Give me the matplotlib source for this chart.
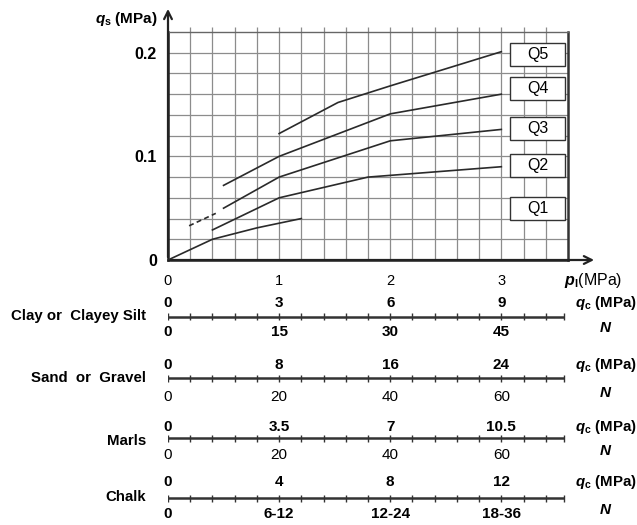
import numpy as np
import matplotlib
matplotlib.use('Agg')
import matplotlib.pyplot as plt
from matplotlib.patches import Rectangle

plt.rcParams['font.family'] = ['Liberation Sans', 'DejaVu Sans']
plt.rcParams['mathtext.fontset'] = 'custom'
plt.rcParams['mathtext.it'] = 'Liberation Sans:italic:bold'
plt.rcParams['mathtext.rm'] = 'Liberation Sans:bold'
plt.rcParams['mathtext.bf'] = 'Liberation Sans:bold'

# curves: p_l (MPa) vs q_s (MPa)
q1_pl = [0, 0.4, 0.8, 1.2]
q1_qs = [0, 0.020, 0.031, 0.040]
q2_pl = [0.4, 1.0, 1.8, 3.0]
q2_qs = [0.029, 0.060, 0.080, 0.090]
q3_pl = [0.5, 1.0, 2.0, 3.0]
q3_qs = [0.050, 0.080, 0.115, 0.126]
q3_dash_pl = [0.19, 0.43]
q3_dash_qs = [0.033, 0.045]
q4_pl = [0.5, 1.0, 2.0, 3.0]
q4_qs = [0.072, 0.100, 0.141, 0.160]
q5_pl = [1.0, 1.53, 2.0, 3.0]
q5_qs = [0.122, 0.152, 0.168, 0.201]

curve_names = ['Q1', 'Q2', 'Q3', 'Q4', 'Q5']
label_qs = [0.048, 0.090, 0.125, 0.164, 0.197]

pl_ticks = [0, 1, 2, 3]
soils = ['Clay or  Clayey Silt', 'Sand  or  Gravel', 'Marls', 'Chalk']
qc_labels = [['0', '3', '6', '9'], ['0', '8', '16', '24'],
             ['0', '3.5', '7', '10.5'], ['0', '4', '8', '12']]
n_labels = [['0', '15', '30', '45'], ['0', '20', '40', '60'],
            ['0', '20', '40', '60'], ['0', '6-12', '12-24', '18-36']]
n_bold = [True, False, False, True]

W, H = 637, 525
fig = plt.figure(figsize=(W / 100, H / 100), dpi=100)

# main chart
ax = fig.add_axes([168 / W, (H - 260) / H, 400 / W, 228 / H])
ax.set_xlim(0, 3.6)
ax.set_ylim(0, 0.22)
grid_c = '#8c8c8c'
ax.vlines(np.arange(0.2, 3.5, 0.2), 0, 0.225, color=grid_c, lw=0.9, clip_on=False, zorder=1)
ax.hlines(np.arange(0.02, 0.21, 0.02), 0, 3.6, color=grid_c, lw=0.9, zorder=1)
for s in ['left', 'bottom']:
    ax.spines[s].set_linewidth(1.8)
    ax.spines[s].set_color('#222222')
ax.spines['right'].set_linewidth(1.8)
ax.spines['right'].set_color('#333333')
ax.spines['top'].set_linewidth(1.0)
ax.spines['top'].set_color('#666666')

line_kw = dict(color='#2a2a2a', lw=1.2, zorder=3)
ax.plot(q1_pl, q1_qs, **line_kw)
ax.plot(q2_pl, q2_qs, **line_kw)
ax.plot(q3_pl, q3_qs, **line_kw)
ax.plot(q3_dash_pl, q3_dash_qs, ls=(0, (3, 2)), **line_kw)
ax.plot(q4_pl, q4_qs, **line_kw)
ax.plot(q5_pl, q5_qs, **line_kw)

for name, yq in zip(curve_names, label_qs):
    ax.add_patch(Rectangle((3.095, yq - 0.0105), 0.49, 0.022, facecolor='#333333',
                           edgecolor='none', zorder=4, clip_on=False))
    ax.add_patch(Rectangle((3.08, yq - 0.0095), 0.49, 0.022, facecolor='white',
                           edgecolor='#333333', lw=1.0, zorder=5, clip_on=False))
    ax.text(3.325, yq + 0.0015, name, ha='center', va='center', fontsize=11.5, zorder=6)

ax.set_xticks(pl_ticks)
ax.set_xticklabels([str(t) for t in pl_ticks], fontsize=10.5)
ax.set_yticks([0, 0.1, 0.2])
ax.set_yticklabels(['0', '0.1', '0.2'], fontsize=11.5, fontweight='bold')
ax.tick_params(length=0)
ax.tick_params(axis='x', pad=10)
ax.tick_params(axis='y', pad=8)

arrow_kw = dict(arrowstyle='->', color='#222222', lw=1.6, mutation_scale=14)
ax.annotate('', xy=(3.86, 0), xytext=(0, 0), arrowprops=arrow_kw, annotation_clip=False)
ax.annotate('', xy=(0, 0.245), xytext=(0, 0), arrowprops=arrow_kw, annotation_clip=False)
ax.text(-0.09, 0.233, r'$q_{\mathrm{s}}$ (MPa)', ha='right', va='center',
        fontsize=11, fontweight='bold', clip_on=False)

# correlation scales below, y in pixel rows
sc = fig.add_axes([168 / W, 0, 400 / W, (H - 260) / H])
sc.set_xlim(0, 3.6)
sc.set_ylim(525, 260)
sc.axis('off')

sc.text(3.56, 280, r'$p_{\mathrm{l}}$(MPa)', ha='left', va='center', fontsize=11.5)

line_rows = [316.5, 378, 438, 498]
top_rows = [303, 365, 427, 482]
bot_rows = [332, 397, 455, 514]
name_rows = [316, 378, 441, 497]
tick_pos = list(np.arange(0, 3.41, 0.2)) + [3.56]

for i in range(len(soils)):
    yl = line_rows[i]
    sc.plot([0, 3.56], [yl, yl], color='#333333', lw=1.8, solid_capstyle='butt')
    sc.vlines(tick_pos, yl - 3.5, yl + 3.5, color='#333333', lw=1.0)
    for x, lab in zip(pl_ticks, qc_labels[i]):
        sc.text(x, top_rows[i], lab, ha='center', va='center', fontsize=11, fontweight='bold')
    for x, lab in zip(pl_ticks, n_labels[i]):
        sc.text(x, bot_rows[i], lab, ha='center', va='center', fontsize=11,
                fontweight='bold' if n_bold[i] else 'normal')
    sc.text(-0.2, name_rows[i], soils[i], ha='right', va='center', fontsize=10.8,
            fontweight='bold')
    sc.text(3.66, top_rows[i], r'$q_{\mathrm{c}}$ (MPa)', ha='left', va='center',
            fontsize=10.8, fontweight='bold')
    sc.text(3.94, bot_rows[i] - 4, r'$N$', ha='center', va='center', fontsize=11)

fig.savefig('out.png', dpi=100)
